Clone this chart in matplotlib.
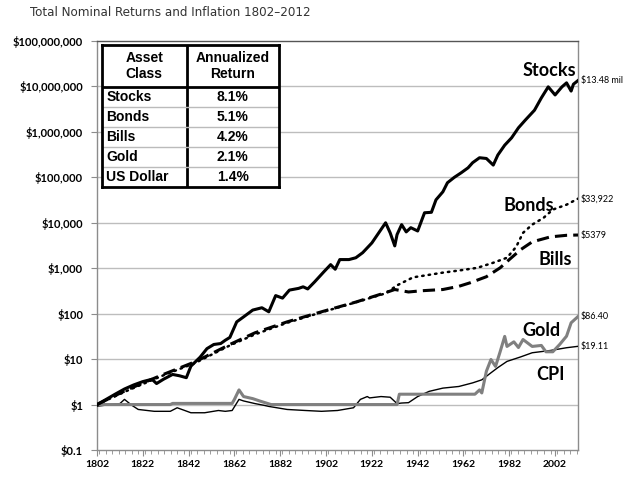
import matplotlib
matplotlib.use("Agg")
import matplotlib.pyplot as plt
from matplotlib import font_manager
from matplotlib.ticker import FixedLocator, FuncFormatter, NullFormatter, MultipleLocator

# values (dollars, $1 invested in 1802)
stock_years = [1802, 1806, 1810, 1814, 1818, 1822, 1826, 1828, 1831, 1835, 1838, 1841,
               1843, 1847, 1850, 1853, 1856, 1858, 1860, 1863, 1866, 1870, 1874, 1877,
               1880, 1883, 1886, 1890, 1892, 1894, 1897, 1901, 1904, 1906, 1908, 1912,
               1915, 1918, 1922, 1925, 1928, 1930, 1932, 1933, 1935, 1937, 1939, 1942,
               1945, 1948, 1950, 1953, 1955, 1958, 1961, 1964, 1966, 1969, 1972, 1975,
               1977, 1980, 1983, 1986, 1989, 1993, 1996, 1999, 2002, 2005, 2007, 2009,
               2010, 2012]
stocks = [1.0, 1.3, 1.7, 2.2, 2.7, 3.2, 3.6, 2.9, 3.6, 4.6, 4.3, 3.9,
          7.0, 11, 17, 21, 22, 26, 30, 66, 85, 120, 135, 110,
          250, 220, 330, 360, 390, 350, 500, 830, 1200, 950, 1550, 1550,
          1700, 2200, 3600, 6000, 10000, 6000, 3100, 5500, 9100, 6300, 7800, 6600,
          16600, 17000, 32000, 48000, 76000, 100000, 126000, 162000, 210000, 270000, 260000, 186000,
          310000, 510000, 740000, 1230000, 1820000, 3000000, 5600000, 9800000, 6500000, 9800000,
          12000000, 7900000, 11200000, 13480000]

bond_years = [1802, 1815, 1830, 1845, 1860, 1871, 1885, 1900, 1915, 1928, 1933, 1940,
              1945, 1953, 1960, 1968, 1975, 1981, 1985, 1988, 1992, 1997, 2001, 2007, 2012]
bonds = [1.0, 2.0, 4.2, 8.3, 20, 35, 63, 107, 178, 280, 420, 630,
         690, 800, 890, 1020, 1320, 1700, 2950, 6000, 9100, 12900, 19500, 25000, 33922]

bill_years = [1802, 1815, 1830, 1845, 1860, 1871, 1885, 1900, 1915, 1928, 1932, 1938,
              1944, 1953, 1960, 1965, 1972, 1978, 1982, 1987, 1992, 2000, 2007, 2012]
bills = [1.0, 2.1, 4.4, 8.8, 21, 38, 66, 110, 180, 290, 340, 300,
         320, 340, 400, 480, 650, 1020, 1550, 2570, 3800, 4900, 5300, 5379]

gold_years = [1802, 1834, 1835, 1861, 1862, 1864, 1866, 1870, 1873, 1878, 1933, 1934,
              1967, 1969, 1970, 1972, 1974, 1976, 1978, 1980, 1981, 1984, 1986, 1988,
              1992, 1996, 1998, 2001, 2004, 2007, 2009, 2012]
gold = [1.0, 1.0, 1.06, 1.06, 1.3, 2.1, 1.5, 1.35, 1.2, 1.0, 1.0, 1.69,
        1.69, 2.1, 1.8, 5.4, 9.8, 6.9, 14.5, 31.6, 19, 24, 18, 27,
        19, 20, 14.5, 14.5, 21, 32, 63, 86.4]

cpi_years = [1802, 1808, 1812, 1814, 1817, 1820, 1827, 1834, 1837, 1840, 1843, 1849,
             1855, 1858, 1861, 1864, 1866, 1871, 1875, 1877, 1885, 1893, 1900, 1907,
             1914, 1917, 1920, 1921, 1926, 1930, 1933, 1935, 1938, 1942, 1947, 1953,
             1960, 1966, 1970, 1974, 1977, 1981, 1987, 1992, 2000, 2007, 2012]
cpi = [0.92, 1.0, 1.05, 1.3, 0.98, 0.78, 0.71, 0.71, 0.85, 0.75, 0.66, 0.66,
       0.74, 0.71, 0.74, 1.3, 1.2, 1.05, 0.96, 0.91, 0.78, 0.74, 0.71, 0.74,
       0.85, 1.3, 1.5, 1.4, 1.5, 1.45, 1.05, 1.08, 1.1, 1.5, 1.95, 2.3,
       2.5, 3.0, 3.5, 5.0, 6.5, 8.9, 11.2, 13.8, 15.5, 17.8, 19.11]

end_labels = ["$13.48 mil", "$33,922", "$5379", "$86.40", "$19.11"]

asset_classes = ["Stocks", "Bonds", "Bills", "Gold", "US Dollar"]
annual_returns = ["8.1%", "5.1%", "4.2%", "2.1%", "1.4%"]

year_ticks = list(range(1802, 2003, 20))
y_ticks = [0.1, 1, 10, 100, 1e3, 1e4, 1e5, 1e6, 1e7, 1e8]


def money(v, pos=None):
    if v < 1:
        return "$%g" % v
    return "${:,.0f}".format(v)


# pick a narrow font for the title if one is around
title_font = None
for f in font_manager.fontManager.ttflist:
    if "Narrow" in f.name or "Condensed" in f.name:
        title_font = font_manager.FontProperties(fname=f.fname, size=9.5)
        break
    if f.stretch in ("condensed", "semi-condensed") and f.style == "normal" and f.weight in (400, "normal"):
        title_font = font_manager.FontProperties(fname=f.fname, size=9.5)
        break
if title_font is None:
    title_font = font_manager.FontProperties(family="DejaVu Sans", size=8.5)

fig = plt.figure(figsize=(6.39, 4.8), dpi=100)
ax = fig.add_axes([97 / 639, 1 - 450 / 480, 481 / 639, 409 / 480])

grid_col = "#bdbdbd"
ax.set_yscale("log")
ax.set_ylim(0.1, 1e8)
ax.set_xlim(1802, 2012)
for v in y_ticks[1:-1]:
    ax.axhline(v, color=grid_col, lw=1, zorder=1)

ax.plot(cpi_years, cpi, color="black", lw=1.0, zorder=3)
ax.plot(gold_years, gold, color="#808080", lw=2.2, zorder=3)
ax.plot(bill_years, bills, color="black", lw=2.2, ls=(0, (4, 2)), zorder=4)
ax.plot(bond_years, bonds, color="black", lw=1.8, ls=(0, (0.6, 2.0)),
        dash_capstyle="round", zorder=4)
ax.plot(stock_years, stocks, color="black", lw=2.2, zorder=5)

ends = [stocks[-1], bonds[-1], bills[-1], gold[-1], cpi[-1]]
for lab, v in zip(end_labels, ends):
    ax.annotate(lab, (2012, v), xytext=(2, 0), textcoords="offset points",
                ha="left", va="center", fontsize=6.5, family="Lato",
                annotation_clip=False)

name_font = dict(family="Lato", fontsize=13, fontweight="bold", ha="right", va="center")
ax.text(2011, 2.3e7, "Stocks", **name_font)
ax.text(2001.5, 2.4e4, "Bonds", **name_font)
ax.text(2009.5, 1.55e3, "Bills", **name_font)
ax.text(2004.5, 43, "Gold", **name_font)
ax.text(2006, 4.6, "CPI", **name_font)

ax.yaxis.set_major_locator(FixedLocator(y_ticks))
ax.yaxis.set_major_formatter(FuncFormatter(money))
ax.yaxis.set_minor_formatter(NullFormatter())
ax.yaxis.set_minor_locator(FixedLocator([]))
ax.set_xticks(year_ticks)
ax.xaxis.set_minor_locator(MultipleLocator(20 / 7))
for lab in ax.get_yticklabels() + ax.get_xticklabels():
    lab.set_family("Lato")
    lab.set_fontweight("bold")
ax.tick_params(axis="y", labelsize=8, length=4, color="#8c8c8c", pad=6)
ax.tick_params(axis="x", labelsize=7.5, length=4, color="#8c8c8c", pad=3)
ax.tick_params(axis="x", which="minor", length=3, color="#8c8c8c")
for side in ["left", "bottom", "right", "top"]:
    ax.spines[side].set_color("#8c8c8c")
    ax.spines[side].set_linewidth(1)
ax.spines["top"].set_color("#555555")

# the return table in the top-left corner
tb = fig.add_axes([102 / 639, 1 - 187 / 480, 177 / 639, 142 / 480], zorder=10)
tb.set_xlim(0, 1)
tb.set_ylim(0, 1)
tb.set_xticks([])
tb.set_yticks([])
tb.set_facecolor("white")
for s in tb.spines.values():
    s.set_linewidth(2)
    s.set_color("black")
split = 0.478
head_y = 0.704
tb.plot([split, split], [0, 1], color="black", lw=2)
tb.plot([0, 1], [head_y, head_y], color="black", lw=2)
row_h = head_y / len(asset_classes)
for i in range(1, len(asset_classes)):
    y = head_y - i * row_h
    tb.plot([0, 1], [y, y], color="#bbbbbb", lw=1)
cell_font = dict(family="Liberation Sans", fontsize=10, fontweight="bold", va="center")
tb.text(split / 2, (1 + head_y) / 2, "Asset\nClass", ha="center", linespacing=1.15, **cell_font)
tb.text((1 + split) / 2, (1 + head_y) / 2, "Annualized\nReturn", ha="center",
        linespacing=1.15, **cell_font)
for i, (a, r) in enumerate(zip(asset_classes, annual_returns)):
    y = head_y - (i + 0.5) * row_h
    tb.text(0.025, y, a, ha="left", **cell_font)
    tb.text((1 + split) / 2, y, r, ha="center", **cell_font)

fig.text(30 / 639, 1 - 13 / 480, "Total Nominal Returns and Inflation 1802\u20132012",
         fontproperties=title_font, color="#333333", ha="left", va="center")

fig.savefig("out.png", dpi=100)
